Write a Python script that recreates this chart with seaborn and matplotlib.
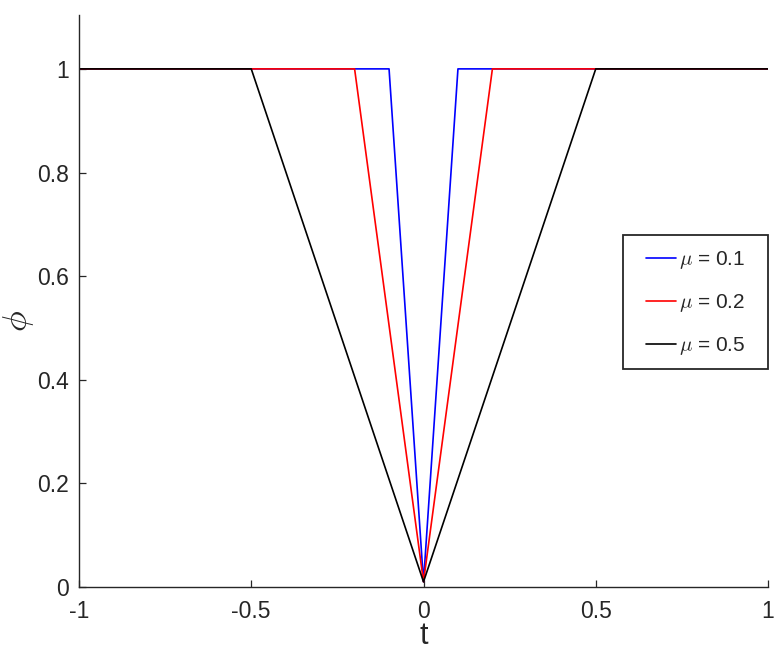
import matplotlib
matplotlib.use("Agg")
import matplotlib.pyplot as plt
from matplotlib.patches import Rectangle
import seaborn as sns
import pandas as pd

labels = [r"$\mu$ = 0.1", r"$\mu$ = 0.2", r"$\mu$ = 0.5"]
t_01 = [-1.0, -0.1, 0.0, 0.1, 1.0]
phi_01 = [1.0, 1.0, 0.01, 1.0, 1.0]
t_02 = [-1.0, -0.2, 0.0, 0.2, 1.0]
phi_02 = [1.0, 1.0, 0.01, 1.0, 1.0]
t_05 = [-1.0, -0.5, 0.0, 0.5, 1.0]
phi_05 = [1.0, 1.0, 0.01, 1.0, 1.0]
colors = ["#0000ff", "#ff0000", "#000000"]

rows = []
for lab, ts, ps in zip(labels, [t_01, t_02, t_05], [phi_01, phi_02, phi_05]):
    for a, b in zip(ts, ps):
        rows.append({"t": a, "phi": b, "series": lab})
df = pd.DataFrame(rows)

sns.set_style("white")
plt.rcParams["font.family"] = ["Liberation Sans", "DejaVu Sans"]
plt.rcParams["mathtext.fontset"] = "cm"

fig = plt.figure(figsize=(7.8, 6.5), dpi=100)
ax = fig.add_axes([79 / 780, 63 / 650, 689 / 780, 572 / 650])
sns.lineplot(data=df, x="t", y="phi", hue="series", palette=colors,
             sort=False, estimator=None, linewidth=1.2, ax=ax)

ax.set_xlim(-1, 1)
ax.set_ylim(0, 1.104)
ax.set_xticks([-1, -0.5, 0, 0.5, 1])
ax.set_xticklabels(["-1", "-0.5", "0", "0.5", "1"])
ax.set_yticks([0, 0.2, 0.4, 0.6, 0.8, 1])
ax.set_yticklabels(["0", "0.2", "0.4", "0.6", "0.8", "1"])
ax.tick_params(bottom=True, left=True, direction="in", length=5, width=0.9,
               labelsize=16.5, colors="#262626", pad=7)
ax.tick_params(axis="x", pad=9)
for s in ["top", "right"]:
    ax.spines[s].set_visible(False)
for s in ["left", "bottom"]:
    ax.spines[s].set_color("#262626")
    ax.spines[s].set_linewidth(1.0)

ax.set_xlabel("t", fontsize=22, color="#262626")
ax.xaxis.set_label_coords(0.5, -0.06)
ax.set_ylabel(r"$\phi$", fontsize=25, color="#262626")
ax.yaxis.set_label_coords(-0.063, 0.465)

frame = Rectangle((0.79, 0.381), 0.21, 0.234, transform=ax.transAxes,
                  facecolor="white", edgecolor="#262626", linewidth=1.3,
                  clip_on=False, zorder=4)
ax.add_patch(frame)
leg = ax.legend(loc="center", bbox_to_anchor=(0.895, 0.496),
                borderaxespad=0, frameon=False, fontsize=15,
                handlelength=1.45, labelspacing=1.0, borderpad=0,
                handletextpad=0.15)
leg.set_zorder(5)

fig.savefig("out.png", dpi=100)
